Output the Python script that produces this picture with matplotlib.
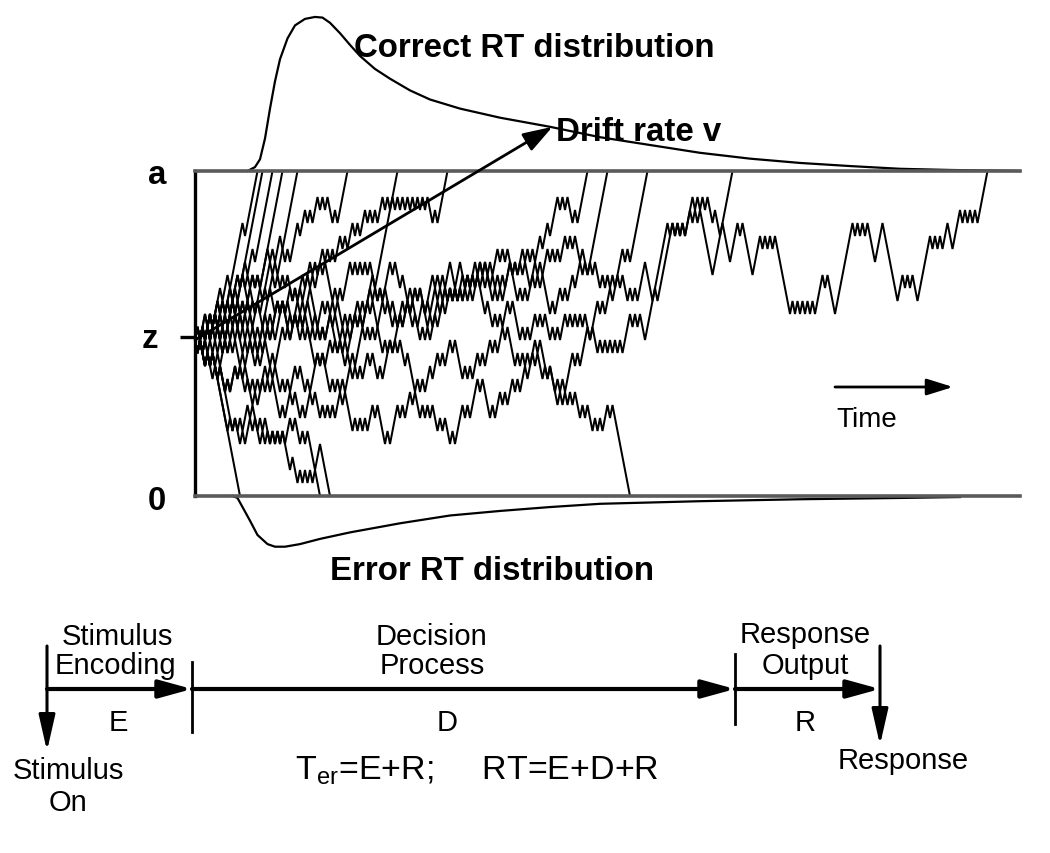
import matplotlib
matplotlib.use("Agg")
import matplotlib.pyplot as plt

plt.rcParams['font.family'] = ['Liberation Sans', 'DejaVu Sans']
plt.rcParams['mathtext.fontset'] = 'custom'
plt.rcParams['mathtext.rm'] = 'Liberation Sans'
plt.rcParams['mathtext.it'] = 'Liberation Sans:italic'

# diffusion model: boundary a, start point z (in walk steps), time in steps
A_BOUND = 25
Z_START = 12
T_MAX = 330

# sample walks, as run lengths of up (+) / down (-) steps
walk_t1 = [1, -1, 2, -1, 1, -1, 3, -1, 2, -1, 5, -1, 5]
walk_t2 = [1, -1, 1, -2, 3, -1, 1, -1, 2, -1, 1, -1, 4, -1, 2, -1, 7]
walk_t3 = [-1, 1, -1, 2, -1, 3, -1, 1, -1, 2, -1, 1, -1, 2, -1, 1, -1, 1, -1, 1, -1, 9]
walk_t4 = [1, -1, 1, -1, 1, -2, 2, -1, 1, -1, 3, -1, 1, -1, 1, -1, 2, -2, 1, -1, 4, -1, 1, -1, 8]
walk_t5 = [1, -1, 1, -1, 2, -1, 1, -1, 1, -1, 3, -1, 2, -1, 9]
walk_p347 = [1, -1, 2, -1, 1, -1, 2, -1, 1, -1, 1, -1,
             3, -1, 1, -2, 2, -1, 1, -1,
             3, -1, 1, -1, 2, -2, 1, -1,
             3, -1, 2, -1, 1, -1,
             2, -1, 1, -1, 1, -1,
             -1, 1, -1, 1, 3]
walk_p397 = [-1, 2, -1, 1, -1, 2, -2, 1, -1,
             3, -1, 1, -1, 1, -2, 1, -1, 2, -1,
             -2, 1, -1, 3, -1, 1, -1, 2, -1, 1, -1,
             2, -1, 1, -1, 1, -1, 2, -1, 1, -1,
             -2, 1, -1, 1, -1, 3, -1, 1, -1, 1,
             -1, 1, -1, 1, -2, 2, 7]
walk_p450 = [1, -1, 1, -1, 2, -1, 1, -1, 2, -1,
             -1, 1, -1, 1, -2, 3, -1, 1, -1, 2,
             -1, 1, -1, 2, -1, 1, -1, 1, -1, 1,
             -2, 1, -1, 1, -1, 3, -1, 1, -1, 2, -1,
             1, -1, 1, -1, 2, -1, 1, -1,
             2, -1, 1, -1, 2, -1, 1, -1, 1, -1,
             2, -1, 1, -1, 1, -1, 1, -1, 1, -1, 1, -1,
             1, -1, 1, -1, 1, -1, 1, -1,
             -1, 1, -1, 1, 3]
walk_p588 = [-1, 1, -1, 2, -1, 1, -1, 1, -2, 1,
             1, -1, 2, -1, 1, -2, 1, -1, 1, -1,
             -1, 1, -1, 1, -2, 1, -1, 3, -1, 1, -1,
             2, -1, 1, -1, 1, -2, 1, -1, 1, -1, 1, -1, 2, -1,
             -2, 1, -1, 1, -1, 3, -1, 1, -1, 2, -1, 1, -1,
             -3, 1, -1, 1, -1, 4, -1, 1, -1, 2, -1, 1, -1,
             -2, 1, -1, 1, -1, 3, -1, 1, -1, 1, -1, 2, -1, 1, -1,
             1, -1, 2, -1, 1, -1, 1, -1,
             2, -1, 1, -1, 1, -2, 1, -1, 2,
             -1, 1, -1, 1, -1, 2, -1, 2, -1, 1,
             2, -1, 1, -1, 1, -1,
             -1, 1, -1, 1, 3]
walk_p608 = [-1, 1, -2, 1, -1, 1, -1, 1, -1,
             2, -1, 1, -1, 1, -2, 1, -1, 2, -1, 1, -1,
             3, -1, 1, -1, 2, -1, 1, -2, 1, -1,
             2, -1, 1, -1, 1, -1, -1, 1, -1, 2, -1, 1,
             -1, 1, -1, 1, -2, 1, -1, 1, -1, 2, -1, 1, -1,
             2, -1, 1, -1, 1, -1, 3, -1, 1, -2, 1, -1,
             -3, 1, -1, 2, -1, 1, -1, 2, -1, 1, -1, 3, -1,
             -2, 1, -1, 1, -1, 1, -1, 2, -1, 1, -1, 1,
             -1, 1, -2, 1, -1, 3, -1, 1, -1, 1, -1, 1, -2, 1, -1,
             1, -1, 3, -1, 1, -1, 1, -1, 2, -1, 1, -1, 1, -1,
             -1, 1, -2, 8]
walk_p645 = [-1, 1, -1, -1, 1, -1, 1, -1, -1, 1,
             -2, 1, -1, 2, -1, 1, -1, 1, -2, 1, -1,
             1, -1, 2, -1, 1, -1, 1, -2, 1, -1, 1, -1,
             2, -1, 1, -2, 1, -1, 3, -1, 1, -1, -2, 1, -1, 1, -1,
             1, -1, 2, -1, 1, -1, 1, -1, 2, -1, 1, -1, -1, 1, -1,
             3, -1, 1, -1, 1, -2, 1, -1, -2, 1, -1, 1, -1, 2, -1,
             2, -1, 1, -1, 2, -1, 1, -3, 1, -1, 1, -1, 2, -1, 1, -1,
             2, -1, 1, -1, 2, -1, 1, -3, 1, -1, 1, -1, 1, -1, 2, -1, 1, -1, -2, 1, -1,
             -2, 1, -1, 4, -1, 1,
             -1, 1, 2, -1,
             3, -1, 1, -1, 2, -1, 4, -1, 1, -1, 7]
walk_p735 = [-1, 1, -1, 2, -1, 1, -1, -1, 1, -1,
             1, -1, 2, -1, 1, -2, 1, -1, 1, -1, -1, 1, -1, 1,
             2, -1, 1, -1, 3, -1, 1, -2, 1, -1, -1, 1, -1, 1, -1,
             -2, 1, -1, 1, -1, 2, -1, 1, -1, 1, -2, 1, -1, 1, -1, 1,
             2, -1, 1, -1, 1, -1, 3, -1, 1, -1, 1, -2, 1, -1, 2, -1, 1, -1,
             -2, 1, -1, 1, -1, 3, -1, 1, -1, 2, -1, 1, -1, 1, -1, 2, -1, 1, -1, 1, -2,
             -1, 1, -2, 1, -1, 1, -1, 2, -1, 1, -3, 1, -1, 1, -1, 2, -1, 1, -1, 1,
             -2, 1, -1, 1, -1, 2, -1, 1, -1, 1, -1, 1, -1, 1, -2, 1, -1, -1,
             1, -1, 1, -1, 1, -1, 1, -1, 1, -1, 3, -1, 1, -1, 1, -2, 4, -1, 6,
             -1, 1, -1, 1, -1, 2, -1, 1, -1, 1, -1,
             -4, 8]
walk_long = [1, -1, 1, -1, 2, -1, 1, -2, 1, -1, 3, -2, 1, -1, 2, -3, 1, -1,
             4, -2, 1, -1, 1, -3, 2, -1, 1, -1, 3, -4, 1, -1, 2, -1, 1, -2,
             1, -1, 1, -1, 2, -1, 1, -1, 4, -2, 1, -1, 1, -3, 1, -1, 1, -1,
             3, -1, 1, -1, 1, -2, 3, -1, 1, -1, 1, -2, 1, -1, 3, -2, 1, -1,
             2, -1, 1, -1, 1, -3, 2, -1, 1, -1, 2, -1,
             -2, 1, -1, 1, -1, 3, -1, 1, -1,
             -3, 1, -1, 2, -1, 1, -1, 2, -1, 1,
             1, -1, 1, -1, 1, -1, 1, -1,
             -1, 1, -1, 1, -1, 1, -1, 1, -1, 1,
             -2, 1, -1, 1, -1,
             3, -3, 6,
             -1, 1, -1, 1, -1, 1, -1, 1,
             2, -1, 1, -1, 1, -1, 1,
             -2, 1, -2, 1, -3, 3, -1, 1, -4, 2,
             1, -1, 1, -1, 1, -1, 1, -1,
             -5,
             1, -1, 1, -1, 1, -1, 1, -1, 1, -1,
             3, -1, 1, -3, 6,
             1, -1, 1, -1, 1, -1, 1, -1,
             -2, 3, -6, 2, -1, 1, -1, 1, -1, -1,
             4, 1, -1, 1, -1, 1, -1,
             2, -2, 3, -1, 1, -1, 1, -1, 1, -1, 1, 3]
walk_b1 = [-1, 1, -2, 1, -2, 1, -10]
walk_b2 = [-1, 1, -1, 1, -1, -1, 1, -2, 1, -1, -2,
           -2, 1, -1, 1, -1, 2, -1, 1, -2, 1, -1, 1, -2, 1, -1, 1, -1,
           1, -1, 2, -1, 1, -2, 1, -1, 1, -5]
walk_b3 = [-1, 1, -2, 1, -1, 1, -3, -3,
           1, -1, 1, -2, 1, -1, 2, -1, 1, -2, 1, -1, 1, -1, 1, -1,
           1, -1, 1, -3, 1, -1, -1, 1, -1, 1, -1, 1, -1, 3, -4]
walk_b4 = [-1, 1, -2, 1, -1, 1, -1, -1, 1, -2,
           1, -1, 2, -1, 1, -2, 1, -1, -1, 1, -1,
           2, -1, 1, -1, 1, -3, 1, -1, 2, -1, 1, -1,
           -1, 1, -1, 2, -1, 1, -2, 1, -1, 1, -1, 1, -1, 2, -1, 1, -1,
           -2, 1, -1, 1, -1, 1, -1, 2, -1, 1, -3, 1, -1, 3, -1, 1, -1, 2, -1, 1, -1,
           -1, 1, -1, 1, -1, 1, -2, 1, -1, 1, -1, -1, 1, -1,
           3, -1, 1, -1, 3, -1, 1,
           -3, 1, -1, 2, -1, 1, -1, 2, -1, 1, -1, 2, -1, 2,
           -1, 1, -2, 1, -1, 1, -2, 1, -1, 1, -1, -1,
           1, -1, 1, -2, 1, -1, 1, -1, -1, 1, -1, 1, -1, 2, -1, 1, -1, -6]

walks = [walk_t1, walk_t2, walk_t3, walk_t4, walk_t5, walk_p347, walk_p397,
         walk_p450, walk_p588, walk_p608, walk_p645, walk_p735, walk_long,
         walk_b1, walk_b2, walk_b3, walk_b4]

# RT densities drawn outside the boundaries (time in steps, height in steps)
correct_t = [21, 24, 26, 28, 30, 32, 34, 37, 40, 44, 48, 51, 54, 58, 62, 66, 72,
             78, 86, 94, 106, 122, 142, 162, 182, 202, 222, 242, 262, 282, 302, 330]
correct_h = [0, 0.3, 0.9, 2.5, 4.8, 6.9, 8.6, 10.2, 11.2, 11.7, 11.85, 11.8, 11.4,
             10.6, 9.7, 8.85, 7.85, 7.1, 6.2, 5.5, 4.8, 4.1, 3.4, 2.6, 2.0, 1.4,
             0.95, 0.62, 0.38, 0.17, 0.08, 0]
error_t = [15, 17, 19, 22, 25, 29, 32, 36, 42, 50, 62, 82, 102, 122, 142, 162,
           202, 242, 282, 306]
error_h = [0, 0.15, 0.85, 1.9, 3.0, 3.7, 3.9, 3.9, 3.7, 3.3, 2.8, 2.1, 1.5, 1.15,
           0.85, 0.6, 0.4, 0.25, 0.15, 0.08]


def trace(runs):
    t, e = [0], [Z_START]
    for r in runs:
        s = 1 if r > 0 else -1
        for _ in range(abs(r)):
            t.append(t[-1] + 1)
            e.append(e[-1] + s)
            if e[-1] <= 0 or e[-1] >= A_BOUND:
                return t, e
    return t, e


fig = plt.figure(figsize=(10.5, 8.54), dpi=100)
bg = fig.add_axes([0, 0, 1, 1])
bg.set_xlim(0, 1050)
bg.set_ylim(854, 0)
bg.axis('off')

ax = fig.add_axes([195 / 1050, 1 - 497 / 854, 825 / 1050, 325 / 854])
ax.set_xlim(0, T_MAX)
ax.set_ylim(0, A_BOUND)
ax.patch.set_alpha(0)
ax.set_xticks([])
ax.set_yticks([])
ax.spines['right'].set_visible(False)
ax.spines['left'].set_linewidth(2.4)
ax.spines['left'].set_color('black')
for side in ('top', 'bottom'):
    ax.spines[side].set_linewidth(2.6)
    ax.spines[side].set_color('#5a5a5a')

for runs in walks:
    t, e = trace(runs)
    ax.plot(t, e, color='black', lw=1.45, solid_joinstyle='miter')

ax.plot(correct_t, [A_BOUND + h for h in correct_h], color='black', lw=1.6,
        clip_on=False)
ax.plot(error_t, [-h for h in error_h], color='black', lw=1.6, clip_on=False)

# drift arrow
ax.annotate('', xy=(143, 28.4), xytext=(0, Z_START), annotation_clip=False,
            arrowprops=dict(arrowstyle='-|>,head_length=1.8,head_width=0.6',
                            mutation_scale=10, lw=2, color='black',
                            shrinkA=0, shrinkB=0, clip_on=False))

bold = dict(fontsize=23.8, fontweight='bold', color='black')
bg.text(534, 57, 'Correct RT distribution', ha='center', va='baseline', **bold)
bg.text(556, 141, 'Drift rate v', ha='left', va='baseline', **bold)
bg.text(492, 580, 'Error RT distribution', ha='center', va='baseline', **bold)
bg.text(157, 184, 'a', ha='center', va='baseline', **bold)
bg.text(150, 348, 'z', ha='center', va='baseline', **bold)
bg.text(157, 510, '0', ha='center', va='baseline', **bold)
bg.plot([180, 195], [338, 338], color='black', lw=2.4, solid_capstyle='butt')

# time arrow inside the box
bg.annotate('', xy=(953, 388), xytext=(835, 388),
            arrowprops=dict(arrowstyle='-|>,head_length=1.6,head_width=0.5',
                            mutation_scale=10, lw=2, color='black',
                            shrinkA=0, shrinkB=0))
bg.text(867, 427, 'Time', ha='center', va='baseline', fontsize=20)

# processing stages timeline
stage_x = [47, 192, 735, 880]
line_y = 690
big_arrow = dict(arrowstyle='-|>,head_length=2.0,head_width=0.55', mutation_scale=10,
                 lw=3, color='black', shrinkA=0, shrinkB=0)
for x0, x1 in zip(stage_x[:-1], stage_x[1:]):
    bg.annotate('', xy=(x1, line_y), xytext=(x0, line_y), arrowprops=big_arrow)
bg.plot([192, 192], [663, 733], color='black', lw=2)
bg.plot([735, 735], [655, 725], color='black', lw=2)
down_arrow = dict(arrowstyle='-|>,head_length=2.2,head_width=0.5', mutation_scale=10,
                  lw=2.2, color='black', shrinkA=0, shrinkB=0)
bg.annotate('', xy=(47, 752), xytext=(47, 647), arrowprops=down_arrow)
bg.annotate('', xy=(880, 746), xytext=(880, 647), arrowprops=down_arrow)

reg = dict(fontsize=21, color='black', ha='center', va='baseline')
bg.text(117, 645, 'Stimulus', **reg)
bg.text(115, 674, 'Encoding', **reg)
bg.text(432, 645, 'Decision', **reg)
bg.text(432, 674, 'Process', **reg)
bg.text(805, 643, 'Response', **reg)
bg.text(805, 674, 'Output', **reg)
bg.text(118, 731, 'E', **reg)
bg.text(447, 731, 'D', **reg)
bg.text(805, 731, 'R', **reg)
bg.text(68, 779, 'Stimulus', **reg)
bg.text(68, 811, 'On', **reg)
bg.text(903, 769, 'Response', **reg)
bg.text(477, 780, r'T$_{\mathrm{er}}$=E+R;     RT=E+D+R', fontsize=24.5,
        color='black', ha='center', va='baseline')

fig.savefig('out.png', dpi=100, facecolor='white')
